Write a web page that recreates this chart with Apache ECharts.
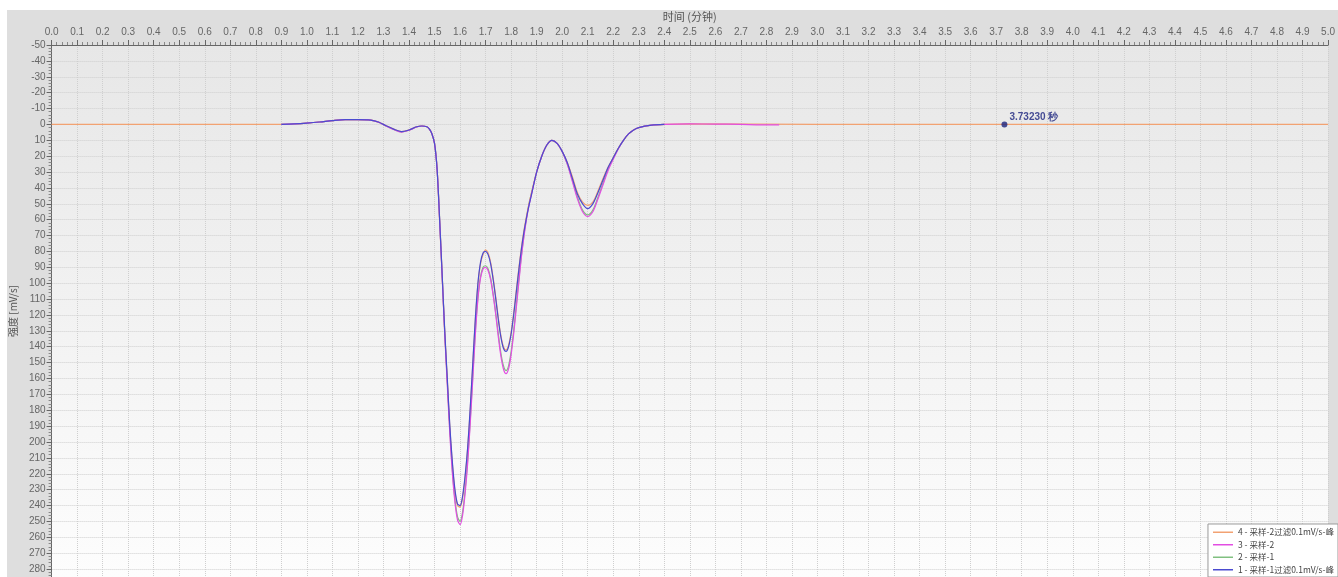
<!DOCTYPE html>
<html>
<head>
<meta charset="utf-8">
<script src="https://cdn.jsdelivr.net/npm/echarts@6/dist/echarts.min.js"></script>
<style>html,body{margin:0;padding:0;background:#fff;}#c{width:1338px;height:577px;}</style>
</head>
<body>
<div id="c"></div>
<script>
// shared time axis (minutes) for the peak region
const tCore = [0.90,0.95,1.00,1.05,1.10,1.15,1.20,1.25,1.28,1.31,1.34,1.37,1.40,1.43,1.45,
  1.47,1.48,1.49,
  1.50,1.51,1.52,1.53,1.54,1.55,1.56,1.57,1.58,1.59,1.60,1.61,1.62,1.63,1.64,1.65,1.66,1.67,1.68,1.69,
  1.70,1.71,1.72,1.73,1.74,1.75,1.76,1.77,1.78,1.79,1.80,1.81,1.82,1.83,1.84,1.85,1.86,1.87,
  1.88,1.90,1.92,1.94,1.96,1.98,2.00,2.02,2.04,2.06,2.08,2.10,2.12,2.14,2.16,2.18,2.20,2.22,2.24,2.26,2.28,2.30,
  2.35,2.40];

const s1 = [0,-0.3,-0.8,-1.5,-2.4,-3,-3,-2.7,-1.5,0.8,3,4.5,3.5,1.5,1,
  1.5,3,6,
  12,28,60,95,130,160,190,213,230,239,240,234,221,203,178,150,122,100,87,81,
  80,82,88,98,110,123,134,141,143,140,132,120,106,92,79,68,59,51,
  44,30,20,13,10,12,17,24,34,44,50,53,50,43,35,27,21,15,10,6,3.5,2,
  0.5,0];

const s2 = [0,-0.3,-0.8,-1.5,-2.4,-3,-3,-2.7,-1.4,1,3.1,4.7,3.6,1.6,1,
  1.5,3,6,
  12,28,59,95,131,162,193,218,236,247,250,244,230,211,186,158,130,109,96,90,
  89,91,97,107,119,132,144,152,155,152,143,130,114,98,83,70,59,50,
  43,30,20,13,10,12,17,25,35,46,54,57,54,46,37,28,21,15,10,6,3.5,2,
  0.5,0];

const s3 = [0,-0.3,-0.8,-1.5,-2.4,-3,-3,-2.7,-1.4,1,3.2,4.8,3.7,1.6,1,
  1.5,3,6,
  12,28,60,96,132,164,195,220,238,249,252,246,232,213,188,160,132,110,97,91,
  90,92,98,108,120,134,146,154,157,154,145,132,116,100,84,71,60,51,
  44,30,20,13,10,12,17,25,36,47,55,58,55,47,38,29,22,15.5,10,6,3.5,2,
  0.5,0];

const s4 = [0,-0.3,-0.8,-1.5,-2.4,-3,-3,-2.7,-1.5,0.8,3,4.5,3.5,1.5,1,
  1.5,3,6,
  12,28,61,96,131,161,191,214,231,240,241,235,222,204,179,151,123,101,88,82,
  79,81,87,97,109,122,133,140,142,139,131,119,105,91,78,67,58,50,
  43,30,20,13,10,12,17,24,33,43,49,51,49,42,34,27,21,15,10,6,3.5,2,
  0.5,0];

// extra segments
const tOrangeHead = [0.0, 0.5, 0.85];
const vOrangeHead = [0, 0, 0];
const tOrangeTail = [2.5, 3.0, 4.0, 5.0];
const vOrangeTail = [-0.3, 0, 0, 0];
const tPinkTail = [2.5, 2.6, 2.7, 2.78, 2.85];
const vPinkTail = [-0.3, -0.2, 0, 0.3, 0.3];

const markerT = 3.7323;
const markerV = 0;
const markerLabel = '3.73230 秒';

const names = ['1 - 采样-1过滤0.1mV/s-峰', '2 - 采样-1', '3 - 采样-2', '4 - 采样-2过滤0.1mV/s-峰'];
const colors = ['#4b4bd0', '#80c080', '#e24ee2', '#f2a272'];

const xAxisName = '时间 (分钟)';
const yAxisName = '强度 [mV/s]';

function pairs(t, v) { return t.map((x, i) => [x, v[i]]); }

const d1 = pairs(tCore, s1);
const d2 = pairs(tCore, s2);
const d3 = pairs(tCore, s3).concat(pairs(tPinkTail, vPinkTail));
const d4 = pairs(tOrangeHead, vOrangeHead).concat(pairs(tCore, s4), pairs(tOrangeTail, vOrangeTail));

function lineSeries(name, data, color, z) {
  return { name, type: 'line', data, symbol: 'none', smooth: 0.3, z,
    lineStyle: { color, width: 1.2 }, itemStyle: { color } };
}

const chart = echarts.init(document.getElementById('c'));
chart.setOption({
  backgroundColor: '#ffffff',
  animation: false,
  graphic: [{ type: 'rect', z: -10, silent: true,
    shape: { x: 7, y: 10, width: 1331, height: 567 },
    style: { fill: '#dedede' } }],
  grid: { left: 48, right: 5, top: 45, bottom: 0, show: true, borderWidth: 0,
    backgroundColor: { type: 'linear', x: 0, y: 0, x2: 0, y2: 1,
      colorStops: [{ offset: 0, color: '#e7e7e7' }, { offset: 1, color: '#fdfdfd' }] } },
  legend: {
    orient: 'vertical', right: 0, bottom: 0,
    data: [names[3], names[2], names[1], names[0]],
    icon: 'rect',
    backgroundColor: '#ffffff', borderColor: '#9a9a9a', borderWidth: 1,
    padding: [4, 4, 3, 5], itemGap: 4, itemWidth: 20, itemHeight: 1.5,
    textStyle: { fontSize: 8.5, color: '#444', fontFamily: 'Noto Sans CJK SC' }
  },
  xAxis: {
    type: 'value', position: 'top', min: 0, max: 5, interval: 0.1,
    name: xAxisName, nameLocation: 'middle', nameGap: 22,
    nameTextStyle: { fontSize: 11, color: '#555', fontFamily: 'Noto Sans CJK SC' },
    axisLine: { show: true, onZero: false, lineStyle: { color: '#666' } },
    axisTick: { show: true, inside: false, length: 5, lineStyle: { color: '#666' } },
    minorTick: { show: true, splitNumber: 5, length: 3, lineStyle: { color: '#888' } },
    axisLabel: { fontSize: 10, color: '#666', margin: 8, formatter: v => v.toFixed(1) },
    splitLine: { show: true, lineStyle: { color: '#cfcfcf', type: 'dotted' } }
  },
  yAxis: {
    type: 'value', inverse: true, min: -50, max: 285, interval: 10,
    name: yAxisName, nameLocation: 'middle', nameGap: 25, nameRotate: 90,
    nameTextStyle: { fontSize: 10, color: '#555', fontFamily: 'Noto Sans CJK SC' },
    axisLine: { show: true, onZero: false, lineStyle: { color: '#666' } },
    axisTick: { show: true, length: 5, lineStyle: { color: '#666' } },
    minorTick: { show: true, splitNumber: 5, length: 3, lineStyle: { color: '#888' } },
    axisLabel: { fontSize: 10, color: '#666', margin: 6,
      showMaxLabel: false },
    splitLine: { show: true, lineStyle: { color: '#cfcfcf', type: 'dotted' } }
  },
  series: [
    lineSeries(names[1], d2, colors[1], 2),
    lineSeries(names[3], d4, colors[3], 3),
    lineSeries(names[2], d3, colors[2], 4),
    lineSeries(names[0], d1, colors[0], 5),
    { type: 'scatter', data: [[markerT, markerV]], symbolSize: 6, z: 6,
      itemStyle: { color: '#1a237e' },
      label: { show: true, formatter: markerLabel, position: 'right', distance: 2,
        offset: [0, -7], color: '#1a237e', fontSize: 10, fontWeight: 'bold' } }
  ]
});
</script>
</body>
</html>
